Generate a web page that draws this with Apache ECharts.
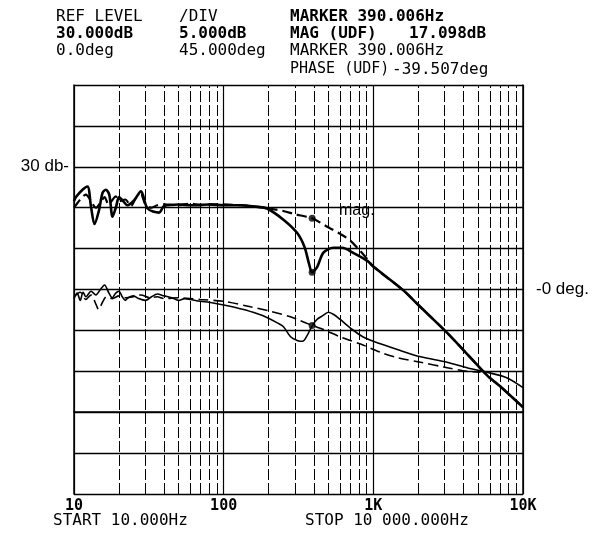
<!DOCTYPE html>
<html>
<head>
<meta charset="utf-8">
<script src="https://cdn.jsdelivr.net/npm/echarts@6/dist/echarts.min.js"></script>
<style>
  html, body { margin: 0; padding: 0; background: #fff; }
  #chart { width: 594px; height: 533px; }
</style>
</head>
<body>
<div id="chart"></div>
<script>
// magnitude, measured (solid, thick)
const magSolidFreq = [10, 10.3, 11.4, 12.3, 13, 13.7, 14.7, 15.5, 16.3, 17.2, 18.1, 19.1, 20, 21.1, 22.8, 25.2, 28, 31, 37, 40, 50, 60, 80, 100, 130, 168, 195, 252, 310, 347, 370, 390, 420, 464, 540, 620, 730, 912, 1000, 1585, 2000, 3115, 4000, 5754, 7000, 10000]
const magSolidDb = [25.8, 26.3, 27.2, 27.6, 25.1, 23.0, 24.7, 26.8, 27.2, 26.6, 23.9, 25.1, 26.3, 25.9, 25.3, 25.9, 27.0, 24.9, 24.4, 25.2, 25.4, 25.3, 25.4, 25.3, 25.3, 25.1, 24.9, 23.5, 21.9, 20.2, 18.3, 17.1, 17.7, 19.5, 20.1, 20.1, 19.5, 18.5, 17.8, 14.9, 13.1, 9.7, 7.6, 4.5, 3.2, 0.6]

// magnitude, model (dashed)
const magDashFreq = [10, 11, 12, 13, 14, 15, 16, 17, 18, 19, 20, 22, 24, 26, 28, 30, 33, 36, 40, 50, 60, 70, 80, 100, 130, 170, 200, 250, 300, 390, 500, 600, 700, 800, 912, 1000, 1585, 2000, 3115, 4000, 5754, 7000, 10000]
const magDashDb = [25.0, 26.0, 26.6, 25.8, 25.0, 25.6, 26.3, 25.4, 25.9, 26.4, 25.8, 26.0, 25.2, 26.2, 26.6, 25.4, 25.0, 25.3, 25.4, 25.3, 25.5, 25.3, 25.4, 25.4, 25.3, 25.1, 24.9, 24.6, 24.2, 23.7, 22.6, 21.8, 21.0, 19.9, 18.7, 17.8, 14.9, 13.1, 9.7, 7.6, 4.5, 3.2, 0.6]

// phase, measured (solid, thin)
const phSolidFreq = [10, 10.5, 11, 11.5, 12, 13, 14, 15, 16, 17, 18, 19, 20, 21, 22, 23, 25, 27, 30, 33, 36, 40, 45, 50, 55, 60, 70, 80, 100, 136, 170, 196, 230, 251, 280, 310, 336, 360, 390, 420, 457, 501, 550, 601, 724, 850, 1000, 1445, 2065, 3111, 4222, 5728, 7780, 10000]
const phSolidDeg = [-10, -4, -12, -3, -8, -2, -6, 0, 5, -3, -9, -4, -2, -8, -12, -9, -7, -10, -12, -8, -5, -7, -9, -12, -10, -11, -13, -14, -17, -22, -27, -31, -37, -41, -52, -56, -57, -51, -40, -33, -29, -25, -28, -33, -44, -52, -57, -66, -74, -80, -86, -91, -97, -108]

// phase, model (dashed)
const phDashFreq = [10, 11, 12, 13, 14, 14.6, 15.5, 16.5, 18, 20, 22, 25, 28, 32, 36, 40, 50, 60, 70, 100, 151, 206, 279, 311, 390, 464, 620, 822, 1115, 1445, 2065, 3115, 4222, 5200]
const phDashDeg = [-8, -3, -11, -6, -16, -22, -14, -8, -10, -7, -9, -8, -6, -9, -8, -10, -9, -10, -11, -13, -19, -24, -30, -33, -39.5, -44, -53, -60, -69, -75, -80, -86, -90, -91]

// marker readouts at 390.006 Hz
const markerFreq = 390.006
const markerMag = [17.098, 23.7]
const markerPhase = [-39.507]

// log grid lines inside each decade
const minorGridFreq = [20, 30, 40, 50, 60, 70, 80, 90, 200, 300, 400, 500, 600, 700, 800, 900, 2000, 3000, 4000, 5000, 6000, 7000, 8000, 9000]

function zip(xs, ys) {
  return xs.map((x, i) => [x, ys[i]])
}

const monoFont = '"DejaVu Sans Mono", "Liberation Mono", monospace'
const sansFont = '"Liberation Sans", Arial, sans-serif'

// plotter style text block
function headText(x, y, text, bold, size) {
  return {
    type: 'text',
    left: x,
    top: y,
    style: {
      text,
      fill: '#000',
      font: (bold ? 'bold ' : '') + (size || 16) + 'px ' + monoFont,
    },
  }
}

const chart = echarts.init(document.getElementById('chart'))

const option = {
  animation: false,
  backgroundColor: '#fff',
  grid: { left: 74, right: 71, top: 85, bottom: 39 },
  xAxis: {
    type: 'log',
    logBase: 10,
    min: 10,
    max: 10000,
    axisLine: { show: true, lineStyle: { color: '#000', width: 1.5 } },
    axisTick: { show: false },
    axisLabel: {
      color: '#000',
      margin: 5,
      fontFamily: monoFont,
      fontWeight: 'bold',
      fontSize: 15,
      formatter: (v) => (v >= 1000 ? v / 1000 + 'K' : String(v)),
    },
    splitLine: { show: true, lineStyle: { color: '#000', width: 1.2 } },
  },
  yAxis: [
    {
      type: 'value',
      min: -10,
      max: 40,
      interval: 5,
      axisLine: { show: true, lineStyle: { color: '#000', width: 1.5 } },
      axisTick: { show: false },
      axisLabel: {
        color: '#000',
        margin: 5,
        fontFamily: sansFont,
        fontSize: 17,
        formatter: (v) => (v === 30 ? '30 db-' : ''),
      },
      splitLine: { show: true, lineStyle: { color: '#000', width: 1.3 } },
    },
    {
      type: 'value',
      min: -225,
      max: 225,
      interval: 45,
      position: 'right',
      axisLine: { show: true, lineStyle: { color: '#000', width: 1.5 } },
      axisTick: { show: false },
      axisLabel: {
        color: '#000',
        margin: 13,
        fontFamily: sansFont,
        fontSize: 17,
        formatter: (v) => (v === 0 ? '-0 deg.' : ''),
      },
      splitLine: { show: false },
    },
  ],
  graphic: [
    headText(56, 9, 'REF LEVEL', false),
    headText(179, 9, '/DIV', false),
    headText(290, 9, 'MARKER 390.006Hz', true),
    headText(56, 26, '30.000dB', true),
    headText(179, 26, '5.000dB', true),
    headText(290, 26, 'MAG (UDF)', true),
    headText(409, 26, '17.098dB', true),
    headText(56, 43, '0.0deg', false),
    headText(179, 43, '45.000deg', false),
    headText(290, 43, 'MARKER 390.006Hz', false),
    headText(290, 62, 'PHASE (UDF)', false, 15),
    headText(392, 62, '-39.507deg', false),
    headText(53, 513, 'START 10.000Hz', false),
    headText(305, 513, 'STOP 10 000.000Hz', false),
    {
      type: 'text',
      left: 339,
      top: 203,
      style: { text: 'mag.', fill: '#000', font: '16px ' + sansFont },
    },
  ],
  series: [
    {
      name: 'grid',
      type: 'line',
      data: [],
      silent: true,
      markLine: {
        silent: true,
        symbol: 'none',
        label: { show: false },
        lineStyle: { color: '#000', width: 1, type: [11, 3] },
        data: minorGridFreq.map((f) => ({ xAxis: f })),
      },
    },
    {
      name: 'mag measured',
      type: 'line',
      yAxisIndex: 0,
      data: zip(magSolidFreq, magSolidDb),
      showSymbol: false,
      smooth: 0.3,
      lineStyle: { color: '#000', width: 2.6 },
    },
    {
      name: 'mag model',
      type: 'line',
      yAxisIndex: 0,
      data: zip(magDashFreq, magDashDb),
      showSymbol: false,
      smooth: 0.3,
      lineStyle: { color: '#000', width: 2.2, type: [10, 5] },
    },
    {
      name: 'phase measured',
      type: 'line',
      yAxisIndex: 1,
      data: zip(phSolidFreq, phSolidDeg),
      showSymbol: false,
      smooth: 0.3,
      lineStyle: { color: '#000', width: 1.6 },
    },
    {
      name: 'phase model',
      type: 'line',
      yAxisIndex: 1,
      data: zip(phDashFreq, phDashDeg),
      showSymbol: false,
      smooth: 0.3,
      lineStyle: { color: '#000', width: 1.6, type: [10, 5] },
    },
    {
      name: 'marker mag',
      type: 'scatter',
      yAxisIndex: 0,
      symbolSize: 7,
      itemStyle: { color: '#000' },
      data: markerMag.map((v) => [markerFreq, v]),
    },
    {
      name: 'marker phase',
      type: 'scatter',
      yAxisIndex: 1,
      symbolSize: 7,
      itemStyle: { color: '#000' },
      data: markerPhase.map((v) => [markerFreq, v]),
    },
  ],
}

chart.setOption(option)
</script>
</body>
</html>
